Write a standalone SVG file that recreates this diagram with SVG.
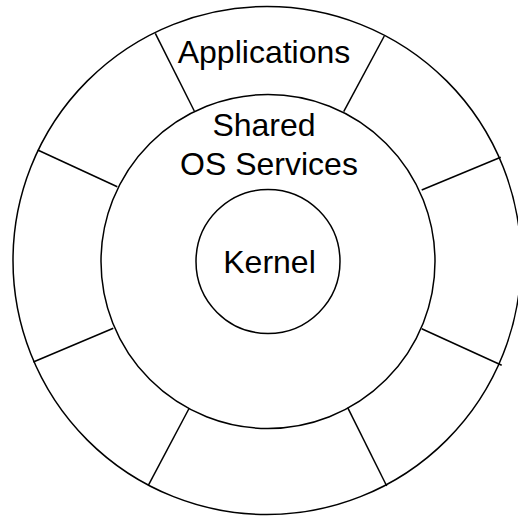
<svg xmlns="http://www.w3.org/2000/svg" width="518" height="516" viewBox="0 0 518 516">
<style>
.ring{fill:none;stroke:#000;stroke-width:1.5}
.div{stroke:#000;stroke-width:1.5;fill:none}
.lbl{font-family:"Liberation Sans",Arial,sans-serif;font-size:32px;fill:#000;text-anchor:middle}
</style>
<rect width="518" height="516" fill="#fff"/>
<g id="applications">
<circle class="ring" cx="267" cy="260.5" r="254"/>
<text class="lbl" x="264" y="63">Applications</text>
</g>
<g id="shared-os-services">
<circle class="ring" cx="268" cy="261.5" r="167"/>
<text class="lbl" x="264" y="136">Shared</text>
<text class="lbl" x="269" y="175">OS Services</text>
</g>
<g id="kernel">
<circle class="ring" cx="268" cy="261.5" r="72"/>
<text class="lbl" x="269.5" y="272.5">Kernel</text>
</g>
<g id="connectors">
<line class="div" x1="155.3" y1="33.3" x2="194.3" y2="111"/>
<line class="div" x1="384.3" y1="36" x2="343.7" y2="111.7"/>
<line class="div" x1="37.7" y1="150" x2="117.3" y2="186.7"/>
<line class="div" x1="500.7" y1="157.3" x2="421.7" y2="190"/>
<line class="div" x1="33.3" y1="362" x2="113.3" y2="328.3"/>
<line class="div" x1="501.7" y1="365.3" x2="421.7" y2="328.7"/>
<line class="div" x1="148.3" y1="485.3" x2="189.3" y2="408"/>
<line class="div" x1="386.7" y1="486" x2="347.7" y2="407.7"/>
</g>
</svg>
